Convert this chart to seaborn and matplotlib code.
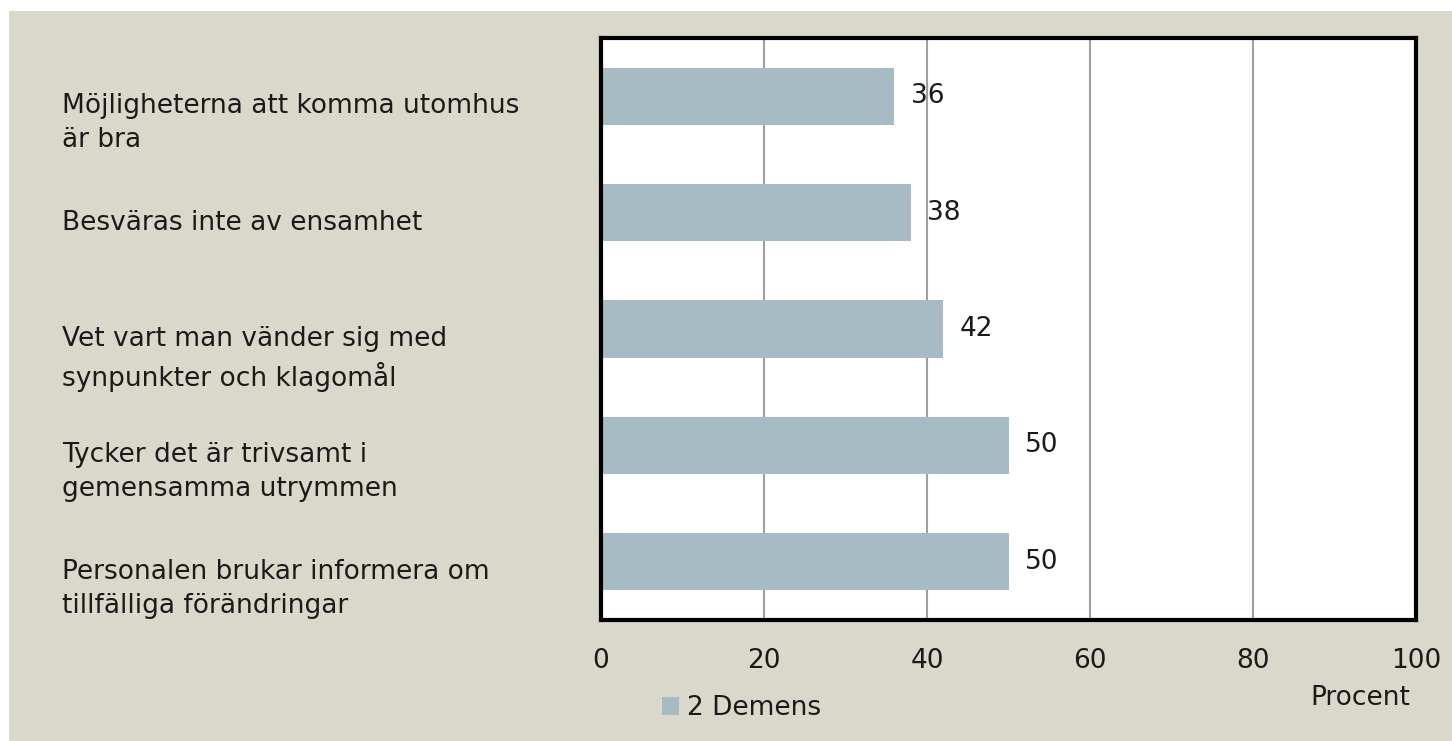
import matplotlib
matplotlib.use("Agg")
import matplotlib.pyplot as plt
import matplotlib.transforms as mtransforms
from matplotlib.patches import Rectangle
import seaborn as sns
import pandas as pd

categories = [
    "Möjligheterna att komma utomhus\när bra",
    "Besväras inte av ensamhet",
    "Vet vart man vänder sig med\nsynpunkter och klagomål",
    "Tycker det är trivsamt i\ngemensamma utrymmen",
    "Personalen brukar informera om\ntillfälliga förändringar",
]
values = [36, 38, 42, 50, 50]
series_name = "2 Demens"
x_ticks = [0, 20, 40, 60, 80, 100]
x_label = "Procent"

BG = "#DAD7CB"
BAR = "#A7BBC5"
TXT = "#1a1a1a"
FS = 19

sns.set_theme(style="white")
plt.rcParams["font.family"] = ["DejaVu Sans"]

df = pd.DataFrame({"kategori": categories, "procent": values, "serie": series_name})

W, H = 1452, 741
fig = plt.figure(figsize=(W / 100, H / 100), dpi=100)
fig.patch.set_facecolor("white")
fig.patches.append(Rectangle((9 / W, 0), 1 - 9 / W, 1 - 11 / H, transform=fig.transFigure,
                             facecolor=BG, edgecolor="none", zorder=-10))

ax = fig.add_axes([601 / W, 1 - 620 / H, (1416 - 601) / W, (620 - 38) / H])
ax.set_facecolor("white")

sns.barplot(data=df, y="kategori", x="procent", hue="serie", orient="h",
            palette=[BAR], width=0.49, ax=ax, saturation=1, zorder=3, linewidth=0)

ax.set_xlim(0, 100)
ax.set_xticks(x_ticks)
ax.set_xticklabels([str(t) for t in x_ticks], fontsize=FS, color=TXT)
ax.tick_params(axis="x", length=0, pad=20)
ax.set_xlabel("")
ax.set_ylabel("")
ax.set_yticks(range(len(categories)))
ax.set_yticklabels([])
ax.tick_params(axis="y", length=0)
ax.grid(axis="x", color="#A0A0A0", linewidth=1.5, zorder=0)
ax.set_axisbelow(True)
for s in ax.spines.values():
    s.set_visible(True)
    s.set_color("black")
    s.set_linewidth(3)
    s.set_zorder(5)

# category labels
trans = mtransforms.blended_transform_factory(fig.transFigure, ax.transData) + \
    mtransforms.ScaledTranslation(0, 3 / 100, fig.dpi_scale_trans)
for i, c in enumerate(categories):
    ax.text(62 / W, i, c, transform=trans, ha="left", va="top",
            fontsize=FS, color=TXT, linespacing=1.4)

# value labels
for cont in ax.containers:
    ax.bar_label(cont, labels=[str(v) for v in values], padding=12, fontsize=FS, color=TXT)

leg = ax.legend(loc="center left", bbox_to_anchor=(662 / W, 1 - 708 / H), bbox_transform=fig.transFigure,
                frameon=False, fontsize=FS, handlelength=0.65, handleheight=0.65, handletextpad=0.3,
                borderaxespad=0, borderpad=0)
for t in leg.get_texts():
    t.set_color(TXT)

fig.text(1360 / W, 1 - 698 / H, x_label, ha="center", va="center", fontsize=FS, color=TXT)

fig.savefig("out.png", dpi=100, facecolor=fig.get_facecolor())
